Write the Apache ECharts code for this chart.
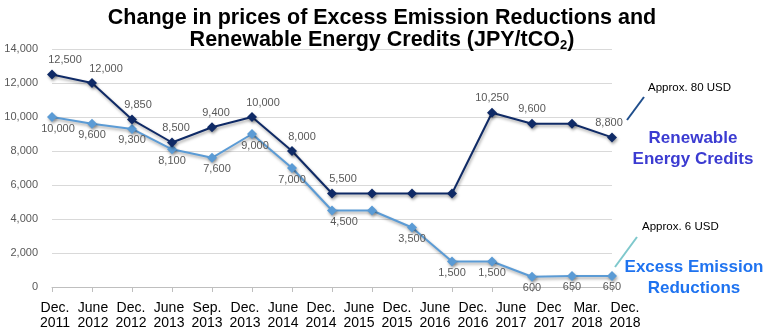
<!DOCTYPE html>
<html>
<head>
<meta charset="utf-8">
<script src="https://cdn.jsdelivr.net/npm/echarts@6/dist/echarts.min.js"></script>
<style>html,body{margin:0;padding:0;background:#fff;}#c{width:768px;height:334px;}</style>
</head>
<body>
<div id="c"></div>
<script>
// Data points (15 observations)
const pointIndex = ['1','2','3','4','5','6','7','8','9','10','11','12','13','14','15'];
const renewable = [12500, 12000, 9850, 8500, 9400, 10000, 8000, 5500, 5500, 5500, 5500, 10250, 9600, 9600, 8800];
const excess = [10000, 9600, 9300, 8100, 7600, 9000, 7000, 4500, 4500, 3500, 1500, 1500, 600, 650, 650];
// Date labels as printed under the axis (16 labels)
const dateLabels = ['Dec. 2011','June 2012','Dec. 2012','June 2013','Sep. 2013','Dec. 2013','June 2014','Dec. 2014','June 2015','Dec. 2015','June 2016','Dec. 2016','June 2017','Dec 2017','Mar. 2018','Dec. 2018'];
const yTicks = [0, 2000, 4000, 6000, 8000, 10000, 12000, 14000];
// Points whose value label is not printed in the original
const renewableNoLabel = [8, 9, 10, 13];
const excessNoLabel = [8];

// Label placement (horizontal nudges, px) - layout only
const renewableLabelDx = [13, 14, 6, 4, 4, 11, 10, 11, 0, 0, 0, 0, 0, 0, -3];
const excessLabelDx = [6, 0, 0, 0, 5, 3, 0, 12, 0, 0, 0, 0, 0, 0, 0];

const FONT = '"Liberation Sans", Arial, sans-serif';
const navy = '#0f2a66';
const light = '#5b9bd5';
const chart = echarts.init(document.getElementById('c'), null, {renderer: 'canvas'});
const fmt = v => v.toLocaleString('en-US');
const shadow = {shadowColor: 'rgba(0,0,0,0.35)', shadowBlur: 3, shadowOffsetX: 1, shadowOffsetY: 2};

const withLabels = (vals, hidden) => vals.map((v, i) => ({
  value: v,
  label: {show: !hidden.includes(i)}
}));

chart.setOption({
  animation: false,
  backgroundColor: '#fff',
  title: {
    text: 'Change in prices of Excess Emission Reductions and\nRenewable Energy Credits (JPY/tCO{sub|2})',
    left: 377, top: 2, textAlign: 'center',
    textStyle: {
      fontFamily: FONT, fontSize: 21.5, fontWeight: 'bold', color: '#000', lineHeight: 22,
      rich: {sub: {fontFamily: FONT, fontSize: 13, fontWeight: 'bold', color: '#000', padding: [10, 0, 0, 0], lineHeight: 22}}
    }
  },
  grid: [
    {left: 52, right: 156, top: 49, bottom: 47},
    {left: 55, right: 143, top: 49, bottom: 47}
  ],
  xAxis: [
    {type: 'category', gridIndex: 0, data: pointIndex, boundaryGap: false,
     axisLine: {lineStyle: {color: '#bfbfbf'}},
     axisTick: {show: true, length: 5, lineStyle: {color: '#bfbfbf'}},
     axisLabel: {show: false}},
    {type: 'category', gridIndex: 1, data: dateLabels, boundaryGap: false,
     axisLine: {show: false}, axisTick: {show: false},
     axisLabel: {show: true, interval: 0, margin: 14, fontFamily: FONT, fontSize: 14, color: '#000', lineHeight: 15,
       formatter: v => v.replace(' ', '\n')}}
  ],
  yAxis: [
    {type: 'value', gridIndex: 0, min: yTicks[0], max: yTicks[yTicks.length-1], interval: 2000,
     axisLine: {show: false}, axisTick: {show: false},
     splitLine: {lineStyle: {color: '#d9d9d9', width: 1}},
     axisLabel: {fontFamily: FONT, fontSize: 11, color: '#595959', margin: 14, formatter: v => fmt(v)}},
    {type: 'value', gridIndex: 1, min: 0, max: 1, show: false}
  ],
  series: [
    {name: 'Renewable Energy Credits', type: 'line', xAxisIndex: 0, yAxisIndex: 0,
     data: withLabels(renewable, renewableNoLabel),
     symbol: 'diamond', symbolSize: 10, z: 3,
     lineStyle: Object.assign({color: navy, width: 2}, shadow),
     itemStyle: Object.assign({color: navy}, shadow),
     labelLayout: p => ({dx: renewableLabelDx[p.dataIndex] || 0}),
     label: {show: true, position: 'top', distance: 4, fontFamily: FONT, fontSize: 11, color: '#595959',
       formatter: p => fmt(p.value)}},
    {name: 'Excess Emission Reductions', type: 'line', xAxisIndex: 0, yAxisIndex: 0,
     data: withLabels(excess, excessNoLabel),
     symbol: 'diamond', symbolSize: 10, z: 2,
     lineStyle: Object.assign({color: light, width: 2}, shadow),
     itemStyle: Object.assign({color: light}, shadow),
     labelLayout: p => ({dx: excessLabelDx[p.dataIndex] || 0}),
     label: {show: true, position: 'bottom', distance: 1, fontFamily: FONT, fontSize: 11, color: '#595959',
       formatter: p => fmt(p.value)}}
  ],
  graphic: [
    {type: 'text', left: 648, top: 82, style: {text: 'Approx. 80 USD', font: '11.5px ' + FONT, fill: '#000'}},
    {type: 'line', shape: {x1: 644, y1: 97, x2: 627, y2: 120}, style: {stroke: '#1f4e8c', lineWidth: 2}},
    {type: 'text', x: 693, y: 128, style: {text: 'Renewable\nEnergy Credits', font: 'bold 17px ' + FONT, fill: '#3b3bd1', align: 'center', lineHeight: 21}},
    {type: 'text', left: 642, top: 221, style: {text: 'Approx. 6 USD', font: '11.5px ' + FONT, fill: '#000'}},
    {type: 'line', shape: {x1: 637, y1: 237, x2: 615, y2: 267}, style: {stroke: '#7ec8cc', lineWidth: 2}},
    {type: 'text', x: 694, y: 257, style: {text: 'Excess Emission\nReductions', font: 'bold 17px ' + FONT, fill: '#1f73f0', align: 'center', lineHeight: 21}}
  ]
});
</script>
</body>
</html>
